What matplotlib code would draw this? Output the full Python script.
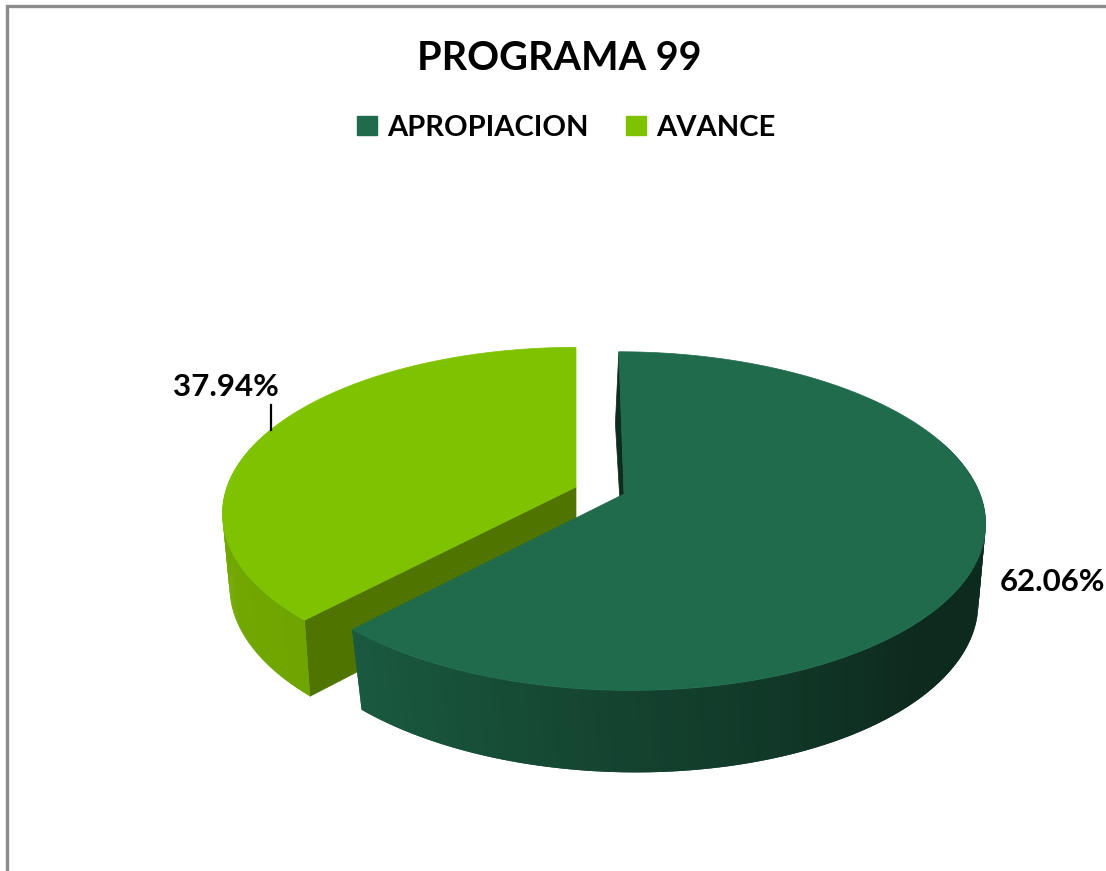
import numpy as np
import matplotlib
matplotlib.use("Agg")
import matplotlib.pyplot as plt
from matplotlib.patches import Polygon, Patch
from matplotlib.colors import to_rgb

categories = ["APROPIACION", "AVANCE"]
values = [62.06, 37.94]
labels = ["62.06%", "37.94%"]
title = "PROGRAMA 99"

DARK = "#1F6B4C"
LIGHT = "#7FC200"
plt.rcParams['font.family'] = ['Lato', 'DejaVu Sans']

fig = plt.figure(figsize=(11.06, 8.71), dpi=100)
ax = fig.add_axes([0, 0, 1, 1])
ax.set_xlim(0, 1106)
ax.set_ylim(871, 0)
ax.axis("off")

K = 0.16
split = np.radians(values[0] / sum(values) * 360)


def disc(t, xc, yc, b, a, lean):
    u, v = np.sin(t), np.cos(t)
    w = 1 + K * v
    return xc + (b * u + lean * v) / w, yc - a * v / w


def wedge_top(t0, t1, d):
    t = np.linspace(t0, t1, 240)
    x, y = disc(t, *d)
    return np.column_stack([np.r_[d[0], x], np.r_[d[1], y]])


def lerp(c0, c1, f):
    a, b = np.array(to_rgb(c0)), np.array(to_rgb(c1))
    return tuple(a + (b - a) * np.clip(f, 0, 1))


def wall(t0, t1, top, bot, stops, n=160):
    # strips overlap their neighbour so that no seams show
    ts = np.linspace(t0, t1, n + 1)
    for i in range(n):
        seg = np.linspace(ts[i], ts[min(i + 2, n)], 5)
        xa, ya = disc(seg, *top)
        xb, yb = disc(seg[::-1], *bot)
        col = stops(i / (n - 1))
        ax.add_patch(Polygon(np.column_stack([np.r_[xa, xb], np.r_[ya, yb]]),
                             closed=True, fc=col, ec="none", lw=0))


def flat(t, top, bot, col):
    xa, ya = disc(np.array([t]), *top)
    xb, yb = disc(np.array([t]), *bot)
    ax.add_patch(Polygon([(top[0], top[1]), (xa[0], ya[0]), (xb[0], yb[0]), (bot[0], bot[1])],
                         closed=True, fc=col, ec=col, lw=0.5))


# AVANCE slice
l_top = (576, 487, 349, 162, 0)
l_bot = (576, 559, 342, 167, 0)
flat(split, l_top, l_bot, "#4F7500")
wall(split + np.radians(70), split, l_top, l_bot,
     lambda f: lerp("#74AC00", "#6FA500", f))
ax.add_patch(Polygon(wedge_top(split, 2 * np.pi, l_top), closed=True, fc=LIGHT, ec=LIGHT, lw=0.5))

# APROPIACION slice
d_top = (624, 494, 356, 165, -6)
d_bot = (624, 570, 348, 170, -10)
flat(0, d_top, d_bot, "#0D2B1E")
wall(np.radians(70), split, d_top, d_bot,
     lambda f: lerp("#0D2A1E", "#1A5A40", (f - 0.42) / 0.58))
ax.add_patch(Polygon(wedge_top(0, split, d_top), closed=True, fc=DARK, ec=DARK, lw=0.5))

# frame
ax.plot([6.5, 6.5, 1106], [871, 6.5, 6.5], color="#8C8C8C", lw=2.4, solid_joinstyle="miter")

# title, data labels, leader line
ax.text(559.5, 58, title, ha="center", va="center", fontsize=28.5, fontweight="bold", color="black")
ax.text(1052.5, 582, labels[0], ha="center", va="center", fontsize=22.5, fontweight="bold", color="black")
ax.text(226, 387, labels[1], ha="center", va="center", fontsize=22.5, fontweight="bold", color="black")
ax.plot([271, 271], [405, 430], color="black", lw=1.6)

# legend
handles = [Patch(fc=DARK, ec=DARK), Patch(fc=LIGHT, ec=LIGHT)]
ax.legend(handles, categories, loc="center", bbox_to_anchor=(566 / 1106, 1 - 128 / 871),
          ncol=2, frameon=False, prop={"size": 21, "weight": "bold"},
          handlelength=0.69, handleheight=0.62,
          handletextpad=0.34, columnspacing=1.3, borderpad=0, borderaxespad=0)

fig.savefig("out.png", dpi=100, facecolor="white")
